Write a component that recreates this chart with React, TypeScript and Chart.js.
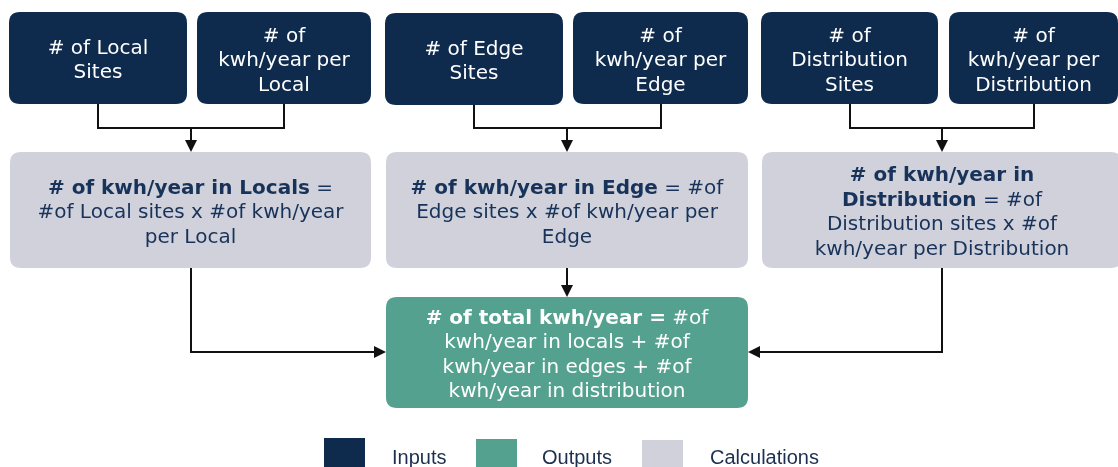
import React, { useEffect, useRef } from "react";
import { Chart, registerables } from "chart.js";

Chart.register(...registerables);

// ---- Data (text content) ----
const inputLabels: string[][] = [
  ["# of Local", "Sites"],
  ["# of", "kwh/year per", "Local"],
  ["# of Edge", "Sites"],
  ["# of", "kwh/year per", "Edge"],
  ["# of", "Distribution", "Sites"],
  ["# of", "kwh/year per", "Distribution"],
];

// each line is a list of [text, bold] segments
const calcLabels: [string, boolean][][][] = [
  [
    [["# of kwh/year in Locals", true], [" =", false]],
    [["#of Local sites x #of kwh/year", false]],
    [["per Local", false]],
  ],
  [
    [["# of kwh/year in Edge", true], [" = #of", false]],
    [["Edge sites x #of kwh/year per", false]],
    [["Edge", false]],
  ],
  [
    [["# of kwh/year in", true]],
    [["Distribution", true], [" = #of", false]],
    [["Distribution sites x #of", false]],
    [["kwh/year per Distribution", false]],
  ],
];

const outputLabel: [string, boolean][][] = [
  [["# of total kwh/year =", true], [" #of", false]],
  [["kwh/year in locals + #of", false]],
  [["kwh/year in edges + #of", false]],
  [["kwh/year in distribution", false]],
];

const legendLabels = ["Inputs", "Outputs", "Calculations"];

// ---- Layout (chart units, axis 0..1118 x 0..467) ----
const inputBoxes = [
  [9, 12, 187, 104],
  [197, 12, 371, 104],
  [385, 13, 563, 105],
  [573, 12, 748, 104],
  [761, 12, 938, 104],
  [949, 12, 1118, 104],
];
const calcBoxes = [
  [10, 152, 371, 268],
  [386, 152, 748, 268],
  [762, 152, 1122, 268],
];
const outputBox = [386, 297, 748, 408];
const legendBoxes = [
  [324, 438, 365, 470],
  [476, 439, 517, 470],
  [642, 440, 683, 470],
];
const legendTextX = [392, 542, 710];

const NAVY = "#0e2a4d";
const GREEN = "#53a18e";
const GRAY = "#d1d1db";
const CALC_TEXT = "#17335a";
const LINE = "#111111";

const FONT = '"DejaVu Sans", Verdana, sans-serif';

function roundRect(ctx: CanvasRenderingContext2D, x0: number, y0: number, x1: number, y1: number, r: number) {
  ctx.beginPath();
  ctx.moveTo(x0 + r, y0);
  ctx.lineTo(x1 - r, y0);
  ctx.quadraticCurveTo(x1, y0, x1, y0 + r);
  ctx.lineTo(x1, y1 - r);
  ctx.quadraticCurveTo(x1, y1, x1 - r, y1);
  ctx.lineTo(x0 + r, y1);
  ctx.quadraticCurveTo(x0, y1, x0, y1 - r);
  ctx.lineTo(x0, y0 + r);
  ctx.quadraticCurveTo(x0, y0, x0 + r, y0);
  ctx.closePath();
}

const flowPlugin = {
  id: "flow",
  afterDraw(chart: any) {
    const ctx: CanvasRenderingContext2D = chart.ctx;
    const xs = chart.scales.x;
    const ys = chart.scales.y;
    const X = (v: number) => xs.getPixelForValue(v);
    const Y = (v: number) => ys.getPixelForValue(v);
    const size = 20;
    const lh = 24.5;
    const textShift = 3;

    const drawBox = (b: number[], color: string) => {
      ctx.fillStyle = color;
      roundRect(ctx, X(b[0]), Y(b[1]), X(b[2]), Y(b[3]), 11);
      ctx.fill();
    };

    const drawRich = (b: number[], lines: [string, boolean][][], color: string) => {
      const cx = (X(b[0]) + X(b[2])) / 2;
      const cy = (Y(b[1]) + Y(b[3])) / 2 + textShift;
      const n = lines.length;
      ctx.fillStyle = color;
      ctx.textBaseline = "middle";
      ctx.textAlign = "left";
      lines.forEach((segs, i) => {
        let total = 0;
        const widths = segs.map(([t, bold]) => {
          ctx.font = `${bold ? "bold " : ""}${size}px ${FONT}`;
          const w = ctx.measureText(t).width;
          total += w;
          return w;
        });
        let x = cx - total / 2;
        const y = cy + (i - (n - 1) / 2) * lh;
        segs.forEach(([t, bold], j) => {
          ctx.font = `${bold ? "bold " : ""}${size}px ${FONT}`;
          ctx.fillText(t, x, y);
          x += widths[j];
        });
      });
    };

    const AH = 12;
    const AW = 6;
    const arrowHead = (x: number, y: number, dir: "down" | "left" | "right") => {
      ctx.fillStyle = LINE;
      ctx.beginPath();
      if (dir === "down") {
        ctx.moveTo(x - AW, y - AH);
        ctx.lineTo(x + AW, y - AH);
        ctx.lineTo(x, y);
      } else if (dir === "right") {
        ctx.moveTo(x - AH, y - AW);
        ctx.lineTo(x - AH, y + AW);
        ctx.lineTo(x, y);
      } else {
        ctx.moveTo(x + AH, y - AW);
        ctx.lineTo(x + AH, y + AW);
        ctx.lineTo(x, y);
      }
      ctx.closePath();
      ctx.fill();
    };

    ctx.save();
    // connectors
    ctx.strokeStyle = LINE;
    ctx.lineWidth = 2;
    for (let g = 0; g < 3; g++) {
      const a = inputBoxes[g * 2];
      const b = inputBoxes[g * 2 + 1];
      const ax = Math.round((X(a[0]) + X(a[2])) / 2);
      const bx = Math.round((X(b[0]) + X(b[2])) / 2);
      const c = calcBoxes[g];
      const cx = Math.round((X(c[0]) + X(c[2])) / 2);
      const yj = Y(128);
      ctx.beginPath();
      ctx.moveTo(ax, Y(a[3]));
      ctx.lineTo(ax, yj);
      ctx.lineTo(bx, yj);
      ctx.lineTo(bx, Y(b[3]));
      ctx.moveTo(cx, yj);
      ctx.lineTo(cx, Y(c[1]) - 10);
      ctx.stroke();
      arrowHead(cx, Y(c[1]), "down");
    }
    // calc -> output
    const midY = Math.round(Y(352));
    const cA = calcBoxes[0], cB = calcBoxes[1], cC = calcBoxes[2];
    const axA = Math.round((X(cA[0]) + X(cA[2])) / 2);
    const axB = Math.round((X(cB[0]) + X(cB[2])) / 2);
    const axC = Math.round(X(942));
    ctx.beginPath();
    ctx.moveTo(axA, Y(cA[3]));
    ctx.lineTo(axA, midY);
    ctx.lineTo(X(outputBox[0]) - 10, midY);
    ctx.moveTo(axB, Y(cB[3]));
    ctx.lineTo(axB, Y(outputBox[1]) - 10);
    ctx.moveTo(axC, Y(cC[3]));
    ctx.lineTo(axC, midY);
    ctx.lineTo(X(outputBox[2]) + 10, midY);
    ctx.stroke();
    arrowHead(X(outputBox[0]), midY, "right");
    arrowHead(axB, Y(outputBox[1]), "down");
    arrowHead(X(outputBox[2]), midY, "left");

    // boxes
    inputBoxes.forEach((b, i) => {
      drawBox(b, NAVY);
      drawRich(b, inputLabels[i].map((t) => [[t, false]] as [string, boolean][]), "#ffffff");
    });
    calcBoxes.forEach((b, i) => {
      drawBox(b, GRAY);
      drawRich(b, calcLabels[i], CALC_TEXT);
    });
    drawBox(outputBox, GREEN);
    drawRich(outputBox, outputLabel, "#ffffff");

    // legend
    const legendColors = [NAVY, GREEN, GRAY];
    legendBoxes.forEach((b, i) => {
      ctx.fillStyle = legendColors[i];
      ctx.fillRect(X(b[0]), Y(b[1]), X(b[2]) - X(b[0]), Y(b[3]) - Y(b[1]));
      ctx.fillStyle = "#1c2f4f";
      ctx.font = `20px "Liberation Sans", Arial, sans-serif`;
      ctx.textAlign = "left";
      ctx.textBaseline = "alphabetic";
      ctx.fillText(legendLabels[i], X(legendTextX[i]), Y(464));
    });
    ctx.restore();
  },
};

export default function App() {
  const ref = useRef<HTMLCanvasElement | null>(null);
  useEffect(() => {
    document.body.style.margin = "0";
    if (!ref.current) return;
    const centers = [...inputBoxes, ...calcBoxes, outputBox].map((b) => ({
      x: (b[0] + b[2]) / 2,
      y: (b[1] + b[3]) / 2,
    }));
    const chart = new Chart(ref.current, {
      type: "scatter",
      data: {
        datasets: [
          {
            label: "boxes",
            data: centers,
            pointRadius: 0,
            pointHoverRadius: 0,
          },
        ],
      },
      options: {
        animation: false,
        responsive: false,
        maintainAspectRatio: false,
        layout: { padding: 0 },
        plugins: { legend: { display: false }, tooltip: { enabled: false } },
        events: [],
        scales: {
          x: { type: "linear", min: 0, max: 1118, display: false },
          y: { type: "linear", min: 0, max: 467, reverse: true, display: false },
        },
      },
      plugins: [flowPlugin],
    });
    return () => chart.destroy();
  }, []);
  return (
    <div style={{ width: 1118, height: 467, background: "#ffffff" }}>
      <canvas ref={ref} width={1118} height={467} style={{ display: "block" }} />
    </div>
  );
}
